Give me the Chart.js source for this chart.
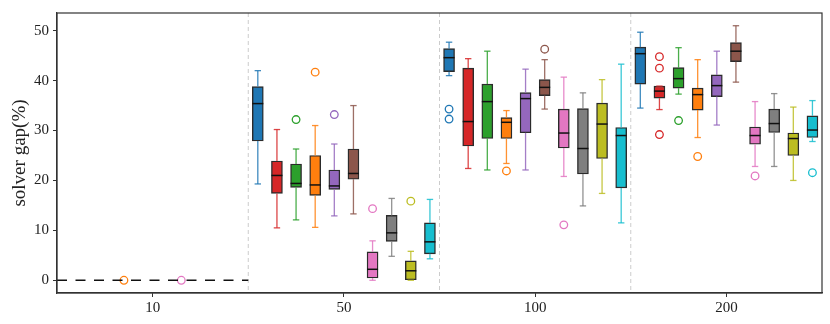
<!DOCTYPE html>
<html>
<head>
<meta charset="utf-8">
<script src="https://cdn.jsdelivr.net/npm/chart.js@4.4.1/dist/chart.umd.min.js"></script>
<style>
  html, body { margin: 0; padding: 0; background: #fff; }
  #wrap { width: 830px; height: 324px; }
</style>
</head>
<body>
<div id="wrap"><canvas id="gapChart"></canvas></div>
<script>
// problem sizes on the x axis
const groups = ['10', '50', '100', '200'];
const yTicks = [0, 10, 20, 30, 40, 50];

// one row per solver (10 of them), one column per problem size; null = no box
const whiskerLow = [
  [null, 19.3, 41.0, 34.5],
  [null, 10.5, 22.4, 34.2],
  [null, 12.1, 22.1, 37.3],
  [null, 10.6, 23.4, 28.6],
  [null, 12.9, 22.1, 31.1],
  [null, 13.3, 34.3, 39.7],
  [null, 0.0, 20.8, 22.8],
  [null, 4.8, 14.9, 22.8],
  [null, 0.0, 17.4, 20.0],
  [null, 4.3, 11.5, 27.8]
];
const boxLow = [
  [null, 27.9, 41.8, 39.3],
  [null, 17.4, 26.9, 36.5],
  [null, 18.6, 28.4, 38.5],
  [null, 17.0, 28.4, 34.1],
  [null, 18.2, 29.55, 36.8],
  [null, 20.25, 37.0, 43.8],
  [null, 0.45, 26.5, 27.25],
  [null, 7.8, 21.3, 29.6],
  [null, 0.0, 24.4, 25.0],
  [null, 5.3, 18.5, 28.6]
];
const median = [
  [null, 35.4, 44.6, 45.4],
  [null, 21.0, 31.8, 37.9],
  [null, 19.4, 35.8, 40.4],
  [null, 19.1, 31.65, 37.2],
  [null, 18.9, 36.4, 39.0],
  [null, 21.4, 38.65, 45.9],
  [null, 2.2, 29.5, 29.0],
  [null, 9.5, 26.4, 31.4],
  [null, 1.9, 31.3, 28.4],
  [null, 7.7, 29.0, 30.1]
];
const boxHigh = [
  [null, 38.8, 46.4, 46.7],
  [null, 23.9, 42.5, 38.9],
  [null, 23.3, 39.3, 42.6],
  [null, 25.0, 32.6, 38.5],
  [null, 22.1, 37.6, 41.15],
  [null, 26.3, 40.2, 47.6],
  [null, 5.7, 34.3, 30.7],
  [null, 13.0, 34.4, 34.3],
  [null, 3.9, 35.5, 29.5],
  [null, 11.5, 30.6, 32.95]
];
const whiskerHigh = [
  [null, 42.0, 47.7, 49.7],
  [null, 30.2, 44.4, 38.9],
  [null, 26.3, 45.9, 46.6],
  [null, 31.0, 34.0, 44.2],
  [null, 27.3, 42.3, 45.9],
  [null, 35.0, 44.2, 51.0],
  [null, 7.9, 40.7, 35.8],
  [null, 16.4, 37.55, 37.4],
  [null, 5.8, 40.2, 34.7],
  [null, 16.2, 43.3, 36.0]
];
const outliers = [
  [[], [], [34.3, 32.3], []],
  [[], [], [], [44.8, 42.5, 29.2]],
  [[], [32.2], [], [32.0]],
  [[0], [41.7], [21.9], [24.8]],
  [[], [33.2], [], []],
  [[], [], [46.3], []],
  [[0], [14.35], [11.1], [20.9]],
  [[], [], [], []],
  [[], [15.85], [], []],
  [[], [], [], [21.55]]
];
// dashed zero line over the first group
const zeroLine = [0, 0];

const colors = ['#1f77b4', '#d62728', '#2ca02c', '#ff7f0e', '#9467bd',
                '#8c564b', '#e377c2', '#7f7f7f', '#bcbd22', '#17becf'];

const slot = 0.1;
const xPos = (g, k) => g + (k - 4.5) * slot;

function alpha(hex, a) {
  const n = parseInt(hex.slice(1), 16);
  return 'rgba(' + (n >> 16) + ',' + ((n >> 8) & 255) + ',' + (n & 255) + ',' + a + ')';
}

const datasets = [];
colors.forEach((c, k) => {
  const pts = [];
  groups.forEach((_, g) => {
    if (boxLow[k][g] !== null) pts.push({ x: xPos(g, k), y: [boxLow[k][g], boxHigh[k][g]] });
  });
  datasets.push({
    type: 'bar', data: pts, backgroundColor: c,
    borderColor: 'rgba(20,20,20,0.9)', borderWidth: 1.4, borderSkipped: false,
    barThickness: 11, grouped: false, order: 2
  });
});
colors.forEach((c, k) => {
  const pts = [];
  outliers[k].forEach((vals, g) => vals.forEach(v => pts.push({ x: xPos(g, k), y: v })));
  datasets.push({
    type: 'scatter', data: pts, pointStyle: 'circle', pointRadius: 3.8,
    pointBorderWidth: 1.3, pointBorderColor: c, pointBackgroundColor: 'rgba(0,0,0,0)', order: 1
  });
});
datasets.push({
  type: 'line', data: zeroLine.map((v, i) => ({ x: -0.5 + i, y: v })),
  borderColor: '#111', borderWidth: 1.6, borderDash: [10, 8.5], pointRadius: 0, order: 0
});

const boxExtras = {
  id: 'boxExtras',
  beforeDatasetsDraw(chart) {
    const { ctx, chartArea: a, scales: { x } } = chart;
    ctx.save();
    ctx.strokeStyle = '#cccccc';
    ctx.lineWidth = 1;
    ctx.setLineDash([4, 3]);
    for (let g = 0; g < groups.length - 1; g++) {
      const px = x.getPixelForValue(g + 0.5);
      ctx.beginPath();
      ctx.moveTo(px, a.top);
      ctx.lineTo(px, a.bottom);
      ctx.stroke();
    }
    ctx.restore();
  },
  afterDatasetsDraw(chart) {
    const { ctx, scales: { x, y } } = chart;
    ctx.save();
    colors.forEach((c, k) => {
      groups.forEach((_, g) => {
        if (boxLow[k][g] === null) return;
        const px = x.getPixelForValue(xPos(g, k));
        const seg = (y0, y1) => {
          ctx.beginPath();
          ctx.moveTo(px, y.getPixelForValue(y0));
          ctx.lineTo(px, y.getPixelForValue(y1));
          ctx.stroke();
        };
        const cap = (v) => {
          const py = y.getPixelForValue(v);
          ctx.beginPath();
          ctx.moveTo(px - 3.2, py);
          ctx.lineTo(px + 3.2, py);
          ctx.stroke();
        };
        ctx.strokeStyle = alpha(c, 0.85);
        ctx.lineWidth = 1.3;
        seg(whiskerLow[k][g], boxLow[k][g]);
        seg(boxHigh[k][g], whiskerHigh[k][g]);
        cap(whiskerLow[k][g]);
        cap(whiskerHigh[k][g]);
        ctx.strokeStyle = '#111';
        ctx.lineWidth = 1.5;
        const my = y.getPixelForValue(median[k][g]);
        ctx.beginPath();
        ctx.moveTo(px - 5.5, my);
        ctx.lineTo(px + 5.5, my);
        ctx.stroke();
      });
    });
    ctx.restore();
  },
  afterDraw(chart) {
    const { ctx, chartArea: a } = chart;
    ctx.save();
    ctx.strokeStyle = '#333';
    ctx.lineWidth = 1.2;
    ctx.strokeRect(a.left, a.top, a.right - a.left, a.bottom - a.top);
    ctx.restore();
  }
};

const serif = '"Liberation Serif", "DejaVu Serif", serif';

new Chart(document.getElementById('gapChart'), {
  type: 'bar',
  data: { datasets },
  options: {
    responsive: true,
    maintainAspectRatio: false,
    animation: false,
    layout: { padding: { top: 8, right: 8, left: 0, bottom: 0 } },
    plugins: { legend: { display: false }, tooltip: { enabled: false } },
    scales: {
      x: {
        type: 'linear', min: -0.5, max: 3.5, offset: false,
        afterBuildTicks: s => { s.ticks = groups.map((_, i) => ({ value: i })); },
        afterFit: s => { s.height = 31; },
        ticks: { callback: v => groups[v], font: { family: serif, size: 15 }, color: '#222', padding: 2, maxRotation: 0 },
        grid: { offset: false, drawOnChartArea: false, tickLength: 4, color: '#333' },
        border: { color: '#333', width: 1.2 }
      },
      y: {
        type: 'linear', min: -2.55, max: 53.55,
        afterBuildTicks: s => { s.ticks = yTicks.map(v => ({ value: v })); },
        afterFit: s => { s.width = 57; },
        ticks: { font: { family: serif, size: 15 }, color: '#222', padding: 4 },
        grid: { drawOnChartArea: false, tickLength: 4, color: '#333' },
        border: { color: '#333', width: 1.2 },
        title: { display: true, text: 'solver gap(%)', font: { family: serif, size: 19 }, color: '#222', padding: { top: 9, bottom: 0 } }
      }
    }
  },
  plugins: [boxExtras]
});
</script>
</body>
</html>
